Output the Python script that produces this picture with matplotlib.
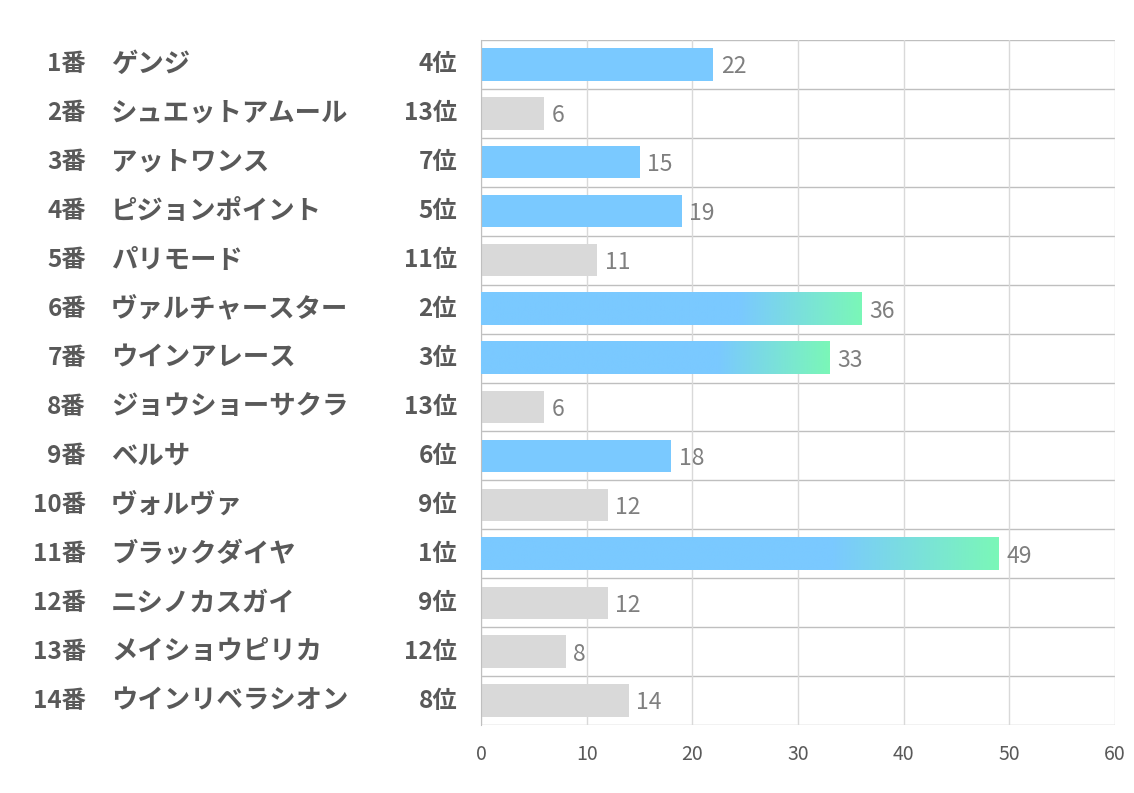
import numpy as np
import matplotlib.pyplot as plt
import matplotlib.transforms as mtransforms
from matplotlib.colors import LinearSegmentedColormap

plt.rcParams['font.family'] = ['Noto Sans CJK JP', 'DejaVu Sans']

# --- data ---
numbers = ["1番", "2番", "3番", "4番", "5番", "6番", "7番",
           "8番", "9番", "10番", "11番", "12番", "13番", "14番"]
names = ["ゲンジ", "シュエットアムール", "アットワンス", "ピジョンポイント",
         "パリモード", "ヴァルチャースター", "ウインアレース", "ジョウショーサクラ",
         "ベルサ", "ヴォルヴァ", "ブラックダイヤ", "ニシノカスガイ",
         "メイショウピリカ", "ウインリベラシオン"]
ranks = [4, 13, 7, 5, 11, 2, 3, 13, 6, 9, 1, 9, 12, 8]
values = [22, 6, 15, 19, 11, 36, 33, 6, 18, 12, 49, 12, 8, 14]

blue = "#7AC9FF"
green = "#7AF7B8"
gray = "#D9D9D9"
text_col = "#595959"

fig = plt.figure(figsize=(11.34, 7.93), dpi=100)
ax = fig.add_axes([481 / 1134, 1 - 725 / 793, 634 / 1134, 685 / 793])

y = np.arange(len(values))
bar_h = 0.66
colors = [blue if r <= 7 else gray for r in ranks]
ax.barh(y, values, height=bar_h, color=colors, zorder=2)

# gradient tail for top 3 (blue along most of the bar, fading to green)
cmap = LinearSegmentedColormap.from_list("bg", [(0, blue), (0.68, blue), (1, green)])
grad = np.linspace(0, 1, 512).reshape(1, -1)
for yi, v, r in zip(y, values, ranks):
    if r <= 3:
        ax.imshow(grad, cmap=cmap, aspect="auto", zorder=3, interpolation="bilinear",
                  extent=[0, v, yi + bar_h / 2, yi - bar_h / 2])

for yi, v in zip(y, values):
    ax.text(v + 0.7, yi + 0.05, str(v), va="center", ha="left",
            fontsize=16.5, color="#7F7F7F", zorder=4)

ax.set_xlim(0, 60)
ax.set_ylim(len(values) - 0.5, -0.5)
ax.set_xticks(np.arange(0, 61, 10))
ax.set_yticks([])
ax.tick_params(axis="x", length=0, pad=14, labelsize=14, labelcolor=text_col)
ax.grid(axis="x", color="#D9D9D9", lw=1, zorder=0)
for b in np.arange(-0.5, len(values), 1):
    ax.axhline(b, color="#BFBFBF", lw=1, zorder=1)
for s in ["top", "bottom", "right"]:
    ax.spines[s].set_visible(False)
ax.spines["left"].set_color("#BFBFBF")

# left labels
trans = mtransforms.blended_transform_factory(fig.transFigure, ax.transData)
for yi, n, nm, r in zip(y, numbers, names, ranks):
    ax.text(86 / 1134, yi, n, transform=trans, ha="right", va="center",
            fontsize=17.5, fontweight="bold", color=text_col)
    ax.text(111 / 1134, yi, nm, transform=trans, ha="left", va="center",
            fontsize=19, fontweight="bold", color=text_col)
    ax.text(457 / 1134, yi, f"{r}位", transform=trans, ha="right", va="center",
            fontsize=17.5, fontweight="bold", color=text_col)

fig.savefig("out.png", dpi=100)
